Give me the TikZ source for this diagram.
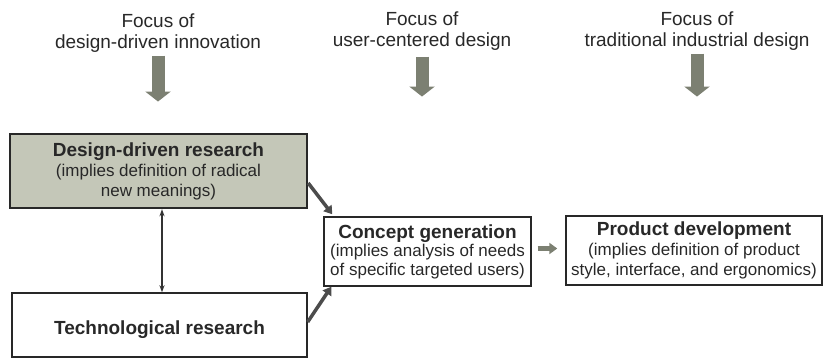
\documentclass[tikz,border=0pt]{standalone}
\usepackage{fontspec}
\setmainfont{Liberation Sans}
\usetikzlibrary{arrows.meta}
\definecolor{boxgray}{RGB}{196,199,184}
\definecolor{arrowgray}{RGB}{124,128,114}
\definecolor{inkgray}{RGB}{40,40,40}
\tikzset{
  focus/.style={align=center,inner sep=0pt,text=inkgray,font=\fontsize{19}{21}\selectfont},
  stage/.style={draw=inkgray,line width=1.4pt,align=center,inner sep=0pt,text=inkgray,font=\fontsize{17}{20}\selectfont},
  focusarrow/.style={draw=arrowgray,line width=13pt,-{Triangle[width=25pt,length=10pt]}},
  feed/.style={draw=black!70,line width=3.5pt,-{Triangle[width=10pt,length=8pt]}},
  handover/.style={draw=arrowgray,line width=4.5pt,-{Triangle[width=11pt,length=8pt]}}
}

\begin{document}
\begin{tikzpicture}[x=1pt,y=-1pt]
        \useasboundingbox (0,0) rectangle (823,358);

        %%% FOCUS LABELS %%%
        \node[focus] (fddi) at (158,33) {Focus of\\design-driven innovation};
        \node[focus] (fucd) at (422,31) {Focus of\\user-centered design};
        \node[focus] (ftid) at (697,31) {Focus of\\traditional industrial design};

        \draw[focusarrow] ([yshift=-3pt]fddi.south) -- ([yshift=-49pt]fddi.south);
        \draw[focusarrow] ([yshift=-6pt]fucd.south) -- ([yshift=-46pt]fucd.south);
        \draw[focusarrow] ([yshift=-3pt]ftid.south) -- ([yshift=-46pt]ftid.south);

        %%% STAGES %%%
        \node[stage,fill=boxgray,line width=2.4pt,minimum width=297pt,minimum height=74pt] (ddr) at (158.5,171)
          {{\fontsize{19}{22}\selectfont\bfseries Design-driven research}\\(implies definition of radical\\new meanings)};
        \node[stage,minimum width=295pt,minimum height=64pt,text height=22pt,text depth=2pt] (tech) at (159.5,325)
          {{\fontsize{19}{22}\selectfont\bfseries Technological research}};
        \node[stage,font=\fontsize{17}{18.5}\selectfont,minimum width=207pt,minimum height=69pt] (concept) at (427.5,251.5)
          {{\fontsize{19}{22}\selectfont\bfseries Concept generation}\\(implies analysis of needs\\of specific targeted users)};
        \node[stage,minimum width=256pt,minimum height=69pt] (product) at (694,250.5)
          {{\fontsize{19}{22}\selectfont\bfseries Product development}\\(implies definition of product\\style, interface, and ergonomics)};

        %%% CONNECTORS %%%
        \draw[<->,>={Stealth[length=7pt,width=5pt]},draw=black!80,line width=1.2pt]
          ([xshift=3.5pt]ddr.south) -- ([xshift=2.5pt]tech.north);
        \draw[feed] ([yshift=-12pt]ddr.east) -- ([xshift=9pt,yshift=2pt]concept.north west);
        \draw[feed] ([yshift=3pt]tech.east) -- ([xshift=8pt]concept.south west);
        \draw[handover] ([xshift=6pt,yshift=3pt]concept.east) -- ([xshift=-8pt,yshift=3pt]concept.east -| product.west);
    \end{tikzpicture}
\end{document}
